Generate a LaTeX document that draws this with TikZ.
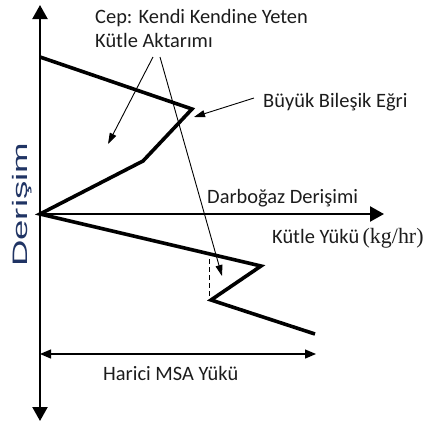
\documentclass[tikz,border=0pt]{standalone}
\usepackage{fontspec}
\setmainfont{Carlito}
\newfontfamily\unitfont{Liberation Serif}
\newfontfamily\axisfont{Liberation Sans}
\usetikzlibrary{arrows.meta}
\definecolor{inkdark}{RGB}{28,28,28}
\definecolor{axislabel}{RGB}{32,52,100}

\begin{document}
\begin{tikzpicture}[x=1bp,y=-1bp,
  axisline/.style={line width=2.2bp, {Triangle[width=15bp,length=14bp]}-{Triangle[width=15bp,length=14bp]}},
  haxisline/.style={line width=2.4bp, -{Triangle[width=15bp,length=14bp]}},
  curveline/.style={line width=3.6bp, line join=miter, miter limit=3},
  pointer/.style={line width=0.9bp, -{Triangle[width=7bp,length=11bp]}},
  dimline/.style={line width=1.3bp, {Triangle[width=9bp,length=11bp]}-{Triangle[width=9bp,length=11bp]}},
  lbl/.style={font=\fontsize{20.5}{24}\selectfont, text=inkdark, inner sep=0pt, anchor=base west},
]
\useasboundingbox (0,0) rectangle (427,423);

% axes
\coordinate (ybot) at (40,421);
\coordinate (ytop) at (40,5);
\coordinate (org) at (40,214);
\coordinate (xend) at (384,214);
\draw[axisline] (ybot) -- (ytop);
\draw[haxisline] (org) -- (xend);

% grand composite curve
\coordinate (c0) at (40,57);
\coordinate (c1) at (192,109);
\coordinate (c2) at (143,161);
\coordinate (d1) at (261,266);
\coordinate (d2) at (211,300);
\coordinate (d3) at (315,334);
\draw[curveline] (c0) -- (c1) -- (c2) -- (org) -- (d1) -- (d2) -- (d3);

% dashed step below the pinch
\coordinate (s0) at (209,259);
\coordinate (s1) at (209,300);
\draw[line width=0.9bp, dash pattern=on 5bp off 3bp] (s0) -- (s1);

% external load dimension
\coordinate (m0) at (40,354);
\coordinate (m1) at (316,354);
\draw[dimline] (m0) -- (m1);

% labels
\node[lbl] (cep1) at (95,23) {Cep: Kendi Kendine Yeten};
\node[lbl] (cep2) at (95,47) {Kütle Aktarımı};
\node[lbl] (gcc) at (263,107) {Büyük Bileşik Eğri};
\node[lbl] (pinch) at (207,203.5) {Darboğaz Derişimi};
\node[lbl] (load) at (272,243) {Kütle Yükü\,{\unitfont\fontsize{22}{24}\selectfont(kg/hr)}};
\node[lbl] (msa) at (103,380) {Harici MSA Yükü};
\node[inner sep=0pt, anchor=base west, rotate=90, text=axislabel,
      font=\axisfont\fontsize{21}{24}\selectfont] (conc) at (27,267)
      {\scalebox{1.75}[1]{Derişim}};

% pointers
\coordinate (p0) at (153,57);
\coordinate (p1) at (108,144);
\coordinate (q0) at (160,57);
\coordinate (q1) at (222,276);
\coordinate (r0) at (254,98);
\coordinate (r1) at (194,117);
\draw[pointer] (p0) -- (p1);
\draw[pointer] (q0) -- (q1);
\draw[pointer] (r0) -- (r1);
\end{tikzpicture}
\end{document}
